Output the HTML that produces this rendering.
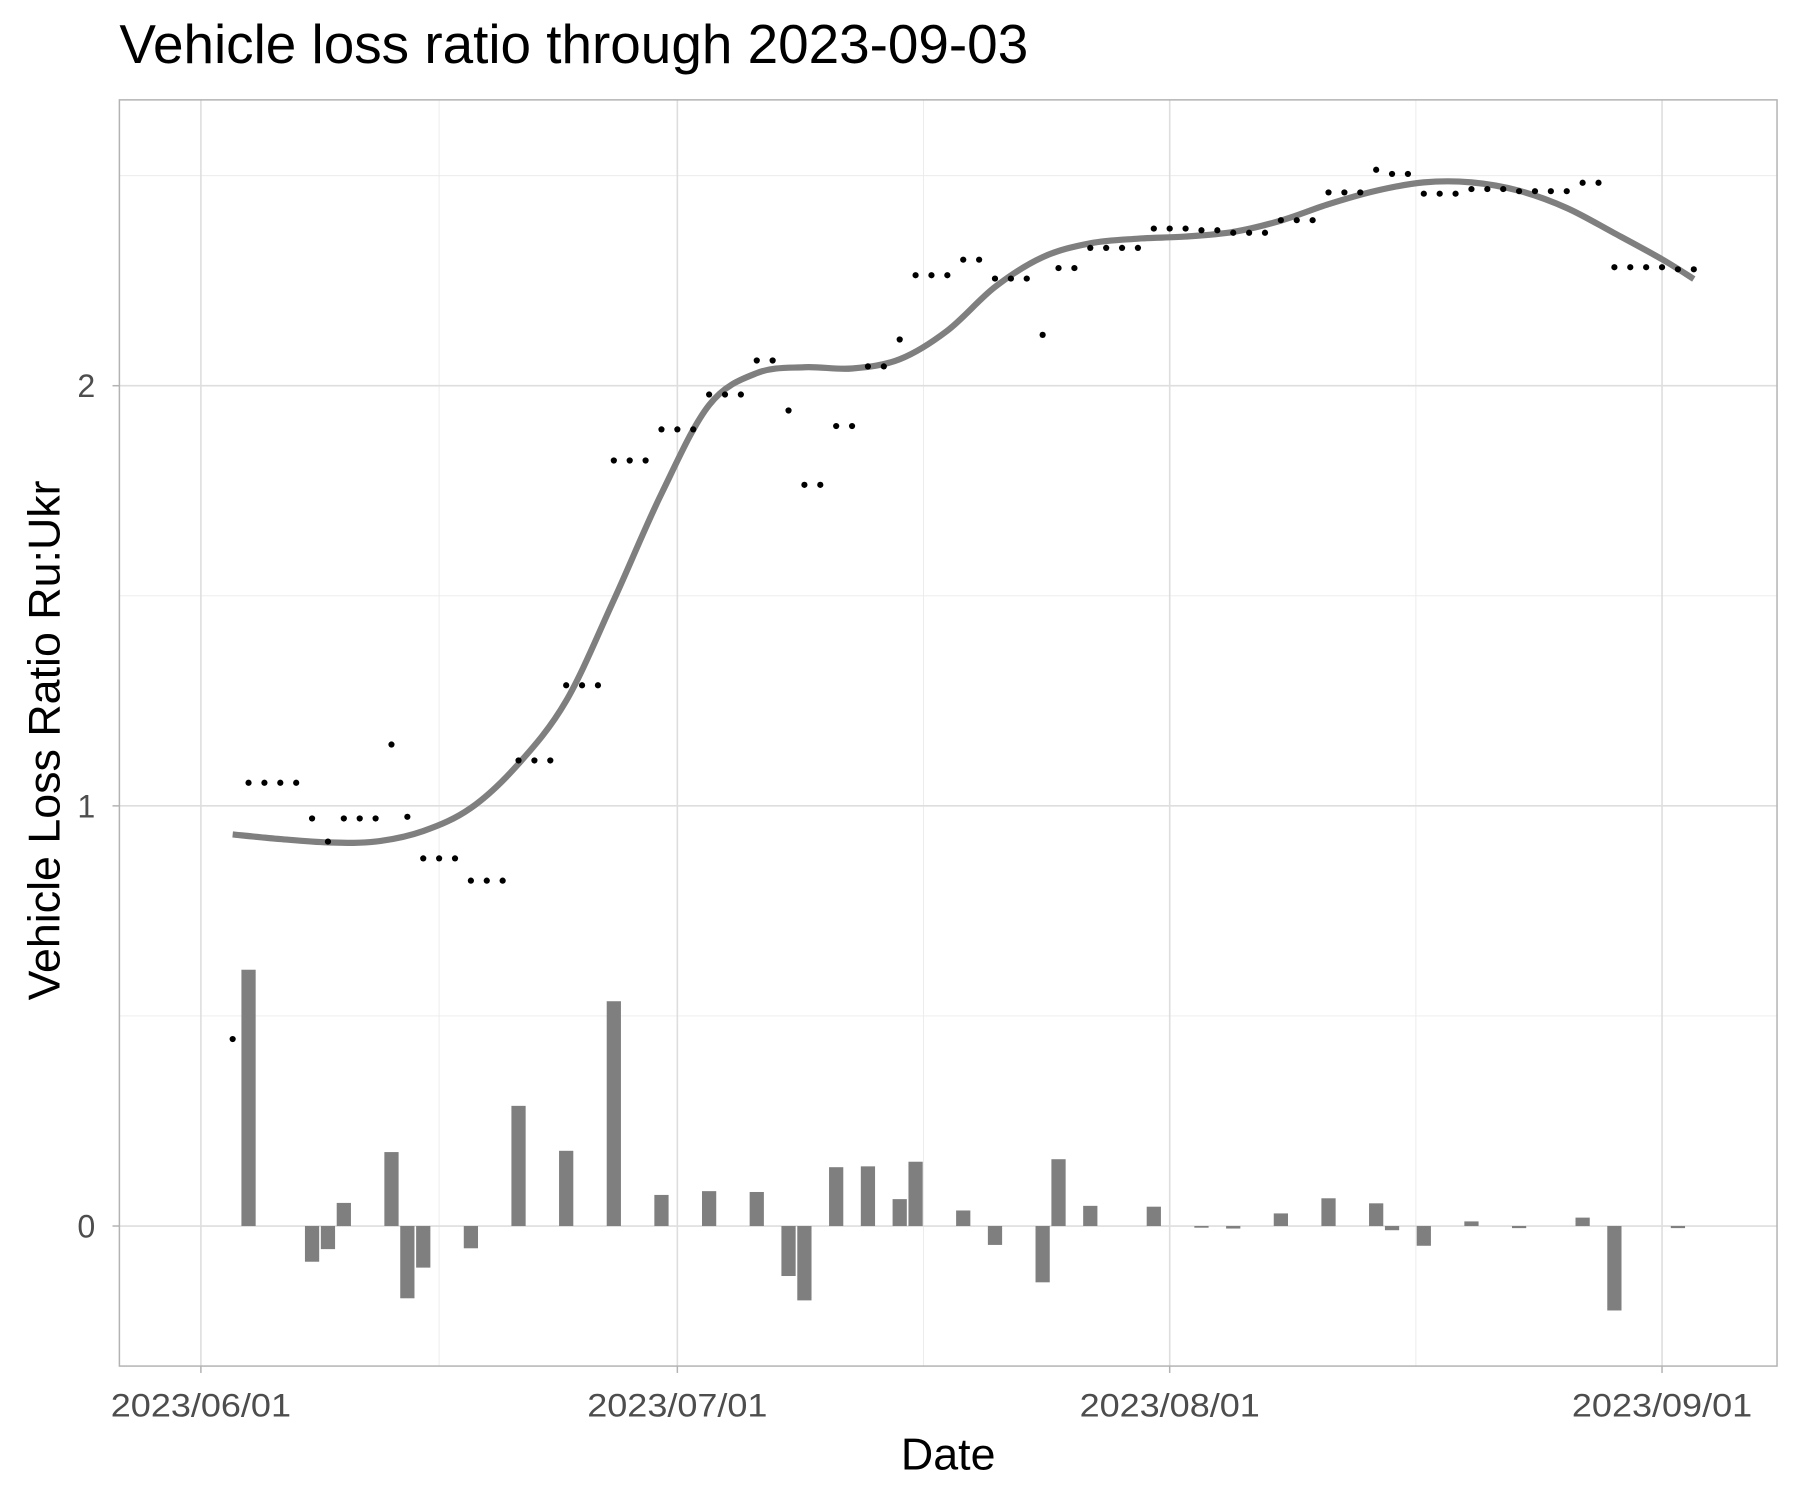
<!DOCTYPE html>
<html><head><meta charset="utf-8"><style>
html,body{margin:0;padding:0;background:#fff}
svg{display:block}
text{font-family:"Liberation Sans",sans-serif}
</style></head><body>
<svg id="chart" width="1800" height="1500" viewBox="0 0 1568 1306.67" xmlns="http://www.w3.org/2000/svg">
<rect width="1568" height="1306.67" fill="#fff"/>
<text x="104" y="55" font-size="47.8" fill="#000">Vehicle loss ratio through 2023-09-03</text>
<g id="grid"></g>
<g id="bars"></g>
<g id="smooth"></g>
<g id="points"></g>
<rect x="104" y="87" width="1444" height="1103" fill="none" stroke="#b3b3b3" stroke-width="1.3"/>
<g id="axes"></g>
<text x="826" y="1280" font-size="39" text-anchor="middle" fill="#000">Date</text>
<text transform="translate(52,645) rotate(-90)" font-size="39" text-anchor="middle" fill="#000">Vehicle Loss Ratio Ru:Ukr</text>
</svg>
<script>
// Days since 2023-06-01 for first point
const startDay = 2;
// Daily loss ratio values (days 2..94)
const ratio = [0.445,1.055,1.055,1.055,1.055,0.970,0.915,0.970,0.970,0.970,1.146,0.974,0.875,0.875,0.875,0.822,0.822,0.822,1.108,1.108,1.108,1.287,1.287,1.287,1.822,1.822,1.822,1.896,1.896,1.896,1.979,1.979,1.979,2.060,2.060,1.941,1.764,1.764,1.904,1.904,2.046,2.046,2.110,2.263,2.263,2.263,2.300,2.300,2.255,2.255,2.255,2.121,2.280,2.280,2.328,2.328,2.328,2.328,2.374,2.374,2.374,2.370,2.370,2.364,2.364,2.364,2.394,2.394,2.394,2.460,2.460,2.460,2.514,2.504,2.504,2.457,2.457,2.457,2.468,2.468,2.468,2.463,2.463,2.463,2.463,2.483,2.483,2.282,2.282,2.282,2.282,2.277,2.277];
// Smoothed curve samples
const smoothDays = [2,5,8,11,14,17,20,23,26,29,32,35,38,41,44,47,50,53,56,59,62,65,68,71,74,77,80,83,86,89,92,94];
const smoothVals = [0.932,0.921,0.913,0.915,0.94,0.995,1.10,1.25,1.49,1.743,1.954,2.03,2.044,2.041,2.063,2.131,2.235,2.306,2.339,2.35,2.355,2.366,2.393,2.432,2.464,2.484,2.484,2.464,2.423,2.363,2.301,2.254];
const yTicks = [0,1,2];
const yMinor = [0.5,1.5,2.5];
const xTickDays = [0,30,61,92];
const xTickLabels = ["2023/06/01","2023/07/01","2023/08/01","2023/09/01"];
const xMinorDays = [15,45.5,76.5];

const NS="http://www.w3.org/2000/svg";
const X = d => 175 + 13.835*d;
const Y = v => 1068 - 366*v;
function mk(tag, parent, attrs){const e=document.createElementNS(NS,tag);for(const k in attrs)e.setAttribute(k,attrs[k]);parent.appendChild(e);return e;}
const grid=document.getElementById('grid'), axes=document.getElementById('axes');
yMinor.forEach(v=>{const l=mk('line',grid,{x1:104,x2:1548,y1:Y(v),y2:Y(v),stroke:'#ebebeb','stroke-width':0.8});

});
xMinorDays.forEach(d=>{const l=mk('line',grid,{x1:X(d),x2:X(d),y1:87,y2:1190,stroke:'#ebebeb','stroke-width':0.8});

});
yTicks.forEach(v=>{const l=mk('line',grid,{x1:104,x2:1548,y1:Y(v),y2:Y(v),stroke:'#dedede','stroke-width':1.4});


const t=mk('line',axes,{x1:98,x2:104,y1:Y(v),y2:Y(v),stroke:'#b3b3b3','stroke-width':1.3});


const tx=mk('text',axes,{x:83,y:Y(v)+10,'font-size':28,'text-anchor':'end',fill:'#4d4d4d'});tx.textContent=String(v);

});
xTickDays.forEach((d,i)=>{const l=mk('line',grid,{x1:X(d),x2:X(d),y1:87,y2:1190,stroke:'#dedede','stroke-width':1.4});


const t=mk('line',axes,{x1:X(d),x2:X(d),y1:1190,y2:1196,stroke:'#b3b3b3','stroke-width':1.3});


const tx=mk('text',axes,{x:X(d),y:1234,'font-size':28,'text-anchor':'middle',fill:'#4d4d4d',textLength:157,lengthAdjust:'spacingAndGlyphs'});tx.textContent=xTickLabels[i];

});
// bars: daily change in ratio
const bars=document.getElementById('bars');
for(let i=1;i<ratio.length;i++){const diff=ratio[i]-ratio[i-1];if(Math.abs(diff)<1e-9)continue;const d=startDay+i;
const y1=Y(Math.max(diff,0)),y2=Y(Math.min(diff,0));
const r=mk('rect',bars,{x:X(d)-6.2,y:y1,width:12.4,height:Math.max(y2-y1,1.2),fill:'#7f7f7f'});

}
// smooth line
let p='';const pts=smoothDays.map((d,i)=>[X(d),Y(smoothVals[i])]);
p='M'+pts[0][0]+','+pts[0][1];
for(let i=0;i<pts.length-1;i++){const p0=pts[Math.max(i-1,0)],p1=pts[i],p2=pts[i+1],p3=pts[Math.min(i+2,pts.length-1)];
p+=' C'+(p1[0]+(p2[0]-p0[0])/6)+','+(p1[1]+(p2[1]-p0[1])/6)+' '+(p2[0]-(p3[0]-p1[0])/6)+','+(p2[1]-(p3[1]-p1[1])/6)+' '+p2[0]+','+p2[1];}
const sl=mk('path',document.getElementById('smooth'),{d:p,fill:'none',stroke:'#7f7f7f','stroke-width':5.4});


const pg=document.getElementById('points');
ratio.forEach((v,i)=>{const c=mk('circle',pg,{cx:X(startDay+i),cy:Y(v),r:2.7,fill:'#000'});

});
</script>
</body></html>
